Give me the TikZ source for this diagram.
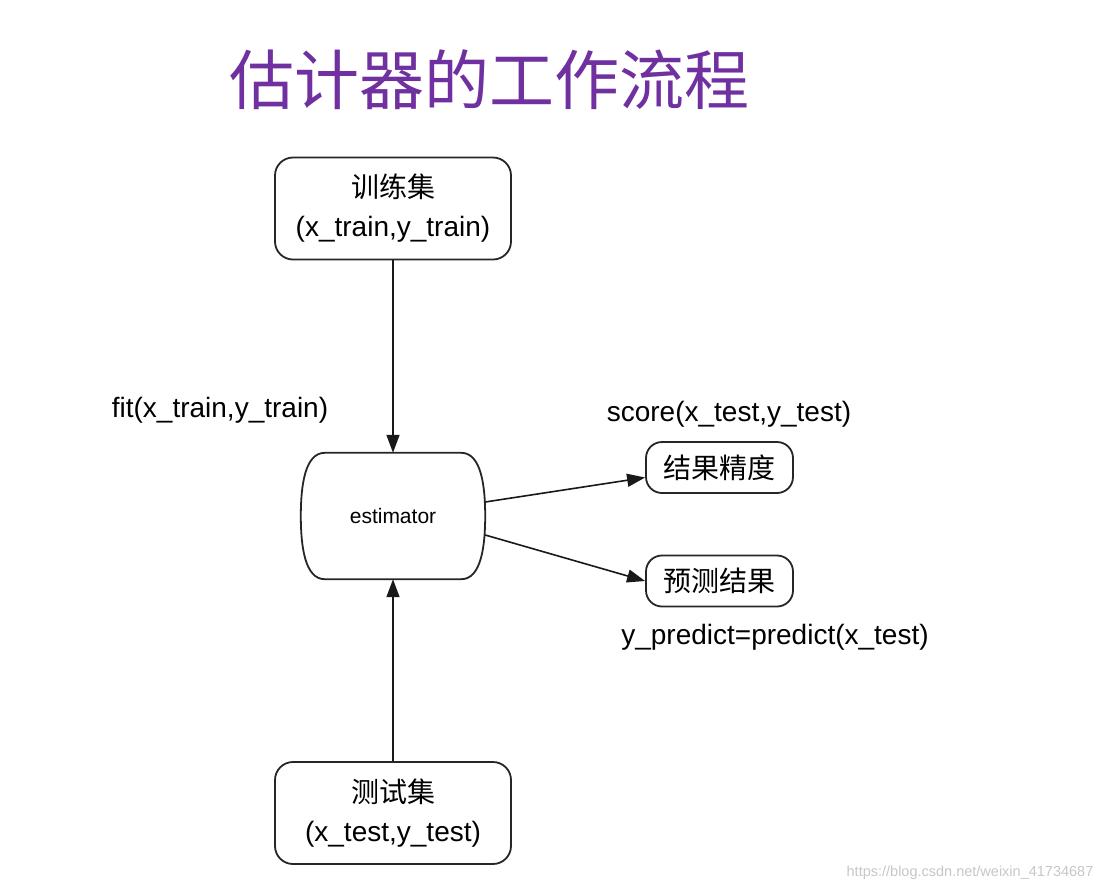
\documentclass[tikz,border=0pt]{standalone}
\usepackage{fontspec}
\setmainfont{Liberation Sans}
\newfontfamily\cjk{Noto Sans CJK SC}
\usetikzlibrary {arrows.meta, positioning, calc}
\definecolor{titlepurple}{RGB}{112,48,160}
\tikzset{
    >={Triangle[length=18pt, width=13pt]},
    setbox/.style={draw=black!85, line width=1.8pt, rounded corners=18pt,
        minimum width=236pt, minimum height=102pt, align=center,
        font=\fontsize{28}{39}\selectfont},
    resultbox/.style={draw=black!85, line width=1.8pt, rounded corners=16pt,
        minimum width=147pt, minimum height=51pt,
        font=\cjk\fontsize{28}{30}\selectfont},
    steplabel/.style={font=\fontsize{28}{30}\selectfont},
    flow/.style={->, line width=1.6pt, black!90}
}

\begin{document}
\begin{tikzpicture}[x=1pt, y=-1pt]
    % page
    \fill [white] (0, 0) rectangle (1116, 892);
    \useasboundingbox (0, 0) rectangle (1116, 892);
    % title
    \node (title) [text=titlepurple, font=\cjk\fontsize{65}{70}\selectfont] at (489, 80) {估计器的工作流程};
    % data sets
    \node (train) [setbox] at (393, 208.5) {{\cjk 训练集}\\(x\_train,y\_train)};
    \node (test) [setbox] at (393, 813) {{\cjk 测试集}\\(x\_test,y\_test)};
    % estimator
    \node (est) [minimum width=184pt, minimum height=126pt, font=\fontsize{21}{24}\selectfont] at (393, 516) {estimator};
    \draw [line width=1.8pt, black!85]
        ([xshift=24pt]est.north west) -- ([xshift=-24pt]est.north east)
        .. controls ([xshift=-4pt]est.north east) and ([yshift=30pt]est.east) .. (est.east)
        .. controls ([yshift=-30pt]est.east) and ([xshift=-4pt]est.south east) .. ([xshift=-24pt]est.south east)
        -- ([xshift=24pt]est.south west)
        .. controls ([xshift=4pt]est.south west) and ([yshift=-30pt]est.west) .. (est.west)
        .. controls ([yshift=30pt]est.west) and ([xshift=4pt]est.north west) .. cycle;
    % results
    \node (acc) [resultbox] at (719.5, 467.5) {结果精度};
    \node (pred) [resultbox] at (719.5, 581) {预测结果};
    % arrows
    \draw [flow] (train) -- (est);
    \draw [flow] (test) -- (est);
    \draw [flow] ([yshift=14pt]est.east) -- ([yshift=-10pt]acc.west);
    \draw [flow] ([yshift=-19pt]est.east) -- (pred.west);
    % labels
    \node (fitlabel) [steplabel] at (220, 410) {fit(x\_train,y\_train)};
    \node (scorelabel) [steplabel] at (729, 414) {score(x\_test,y\_test)};
    \node (predlabel) [steplabel] at (775, 637) {y\_predict=predict(x\_test)};
    \node (mark) [text=black!22, font=\fontsize{14.5}{16}\selectfont] at (970, 873) {https://blog.csdn.net/weixin\_41734687};
\end{tikzpicture}
\end{document}
